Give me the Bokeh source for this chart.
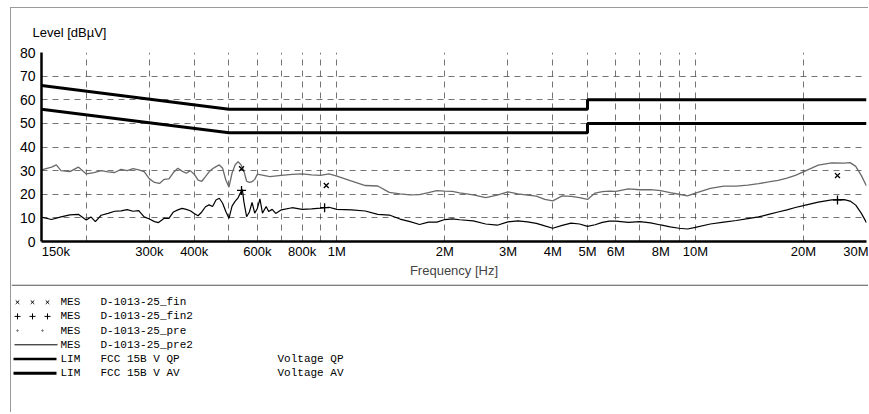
from bokeh.plotting import figure
from bokeh.models import FixedTicker, Range1d
from bokeh.layouts import column
from bokeh.core.properties import value
from bokeh.embed import file_html
from bokeh.resources import INLINE

# ---------------- data ----------------
# prescan QP trace (D-1013-25_pre)
pre_khz = [150, 160, 165, 170, 180, 190, 200, 210, 220, 230, 240, 250, 260, 270, 280, 290,
           300, 310, 320, 330, 340, 350, 360, 370, 380, 390, 400, 410, 420, 430, 440, 450,
           460, 470, 480, 490, 500, 510, 520, 530, 540, 550, 560, 570, 580, 590, 600, 650,
           700, 750, 800, 850, 900, 950, 1000, 1100, 1200, 1300, 1400, 1500, 1600, 1700,
           1800, 1900, 2000, 2100, 2200, 2400, 2600, 2800, 3000, 3200, 3400, 3600, 3800,
           4000, 4250, 4500, 4750, 5000, 5250, 5500, 5750, 6000, 6500, 7000, 7500, 8000,
           8500, 9000, 9500, 10000, 11000, 12000, 13000, 14000, 15000, 16000, 17000, 18000,
           19000, 20000, 22000, 24000, 26000, 27000, 28000, 29000, 30000]
pre_db = [30.3, 31.5, 32.4, 30.0, 29.6, 31.5, 28.6, 29.2, 30.0, 29.5, 29.2, 30.5, 30.0, 30.8, 30.3, 29.6,
          26.5, 25.0, 24.6, 26.3, 26.5, 29.2, 31.0, 29.8, 28.9, 30.0, 28.5, 26.0, 25.5, 27.5, 29.5, 30.8,
          31.7, 32.4, 31.0, 26.0, 23.0, 29.0, 32.4, 33.8, 32.5, 30.0, 25.5, 25.0, 25.3, 26.3, 28.5, 27.5,
          28.0, 28.4, 28.6, 28.2, 28.0, 28.6, 27.7, 25.6, 23.7, 23.5, 20.8, 20.2, 19.7, 19.8,
          20.7, 21.5, 21.3, 21.2, 20.6, 19.7, 18.6, 19.6, 21.0, 20.2, 19.6, 19.2, 17.8,
          17.2, 19.3, 19.1, 18.6, 17.8, 20.5, 21.1, 21.3, 21.2, 22.3, 21.9, 22.0, 21.5,
          20.7, 20.0, 19.3, 20.5, 22.5, 23.4, 23.4, 23.9, 24.5, 25.2, 25.9, 26.8,
          28.0, 29.5, 32.3, 33.3, 33.2, 33.4, 31.8, 28.0, 23.5]

# prescan AV trace (D-1013-25_pre2)
pre2_khz = [150, 160, 170, 180, 190, 200, 206, 212, 220, 230, 240, 250, 260, 270, 280, 290,
            300, 310, 318, 330, 340, 350, 360, 370, 380, 390, 400, 410, 420, 430, 440, 450,
            460, 470, 480, 490, 500, 510, 520, 530, 540, 545, 550, 560, 570, 580, 590, 600,
            610, 620, 635, 645, 660, 675, 700, 750, 800, 850, 900, 950, 1000, 1100, 1200,
            1300, 1400, 1500, 1600, 1700, 1800, 1900, 2000, 2100, 2200, 2400, 2600, 2800,
            3000, 3200, 3400, 3600, 3800, 4000, 4250, 4500, 4750, 5000, 5250, 5500, 5750,
            6000, 6500, 7000, 7500, 8000, 8500, 9000, 9500, 10000, 11000, 12000, 13000,
            14000, 15000, 16000, 17000, 18000, 19000, 20000, 22000, 24000, 26000, 27000,
            28000, 29000, 30000]
pre2_db = [10.3, 9.3, 10.4, 11.3, 11.5, 9.1, 10.4, 8.4, 11.1, 11.9, 12.8, 13.0, 13.5, 12.8, 13.1, 10.4,
           9.5, 8.4, 8.0, 9.8, 9.8, 12.5, 13.4, 14.0, 13.6, 13.0, 11.9, 10.9, 12.5, 14.7, 15.5, 14.8,
           17.6, 18.3, 16.2, 12.7, 9.8, 15.0, 17.0, 18.5, 21.0, 22.0, 17.0, 10.5, 12.5, 16.5, 12.0, 14.0,
           18.0, 12.0, 14.8, 12.7, 13.6, 11.9, 13.4, 14.3, 13.6, 13.8, 14.1, 14.5, 13.6, 13.4, 12.9,
           11.5, 11.2, 9.5, 8.4, 7.2, 8.2, 8.2, 9.3, 9.6, 9.2, 8.7, 7.4, 6.9,
           8.3, 8.7, 8.3, 7.7, 6.6, 5.6, 6.8, 7.8, 7.4, 6.4, 7.1, 8.1, 8.6,
           8.6, 8.1, 8.4, 7.9, 7.0, 6.2, 5.6, 5.3, 6.0, 7.4, 8.2, 8.9,
           9.7, 10.4, 11.5, 12.5, 13.4, 14.4, 15.2, 16.7, 17.6, 17.7, 17.1,
           15.4, 12.0, 8.0]

# final measurements
fin_khz = [542, 934, 24900]
fin_db = [30.8, 23.7, 27.9]
fin2_khz = [542, 924, 24900]
fin2_db = [21.6, 14.3, 17.6]

# FCC 15B limits
lim_mhz = [0.15, 0.5, 5, 5, 30]
qp_db = [66, 56, 56, 60, 60]
av_db = [56, 46, 46, 50, 50]

# axis ticks
label_ticks = [150e3, 300e3, 400e3, 600e3, 800e3, 1e6, 2e6, 3e6, 4e6, 5e6, 6e6, 8e6, 10e6, 20e6, 30e6]
label_texts = ["150k", "300k", "400k", "600k", "800k", "1M", "2M", "3M", "4M", "5M", "6M", "8M",
               "10M", "20M", "30M"]
grid_ticks = [200e3, 300e3, 400e3, 500e3, 600e3, 700e3, 800e3, 900e3, 1e6, 2e6, 3e6, 4e6,
              5e6, 6e6, 7e6, 8e6, 9e6, 10e6, 20e6, 30e6]
y_ticks = [0, 10, 20, 30, 40, 50, 60, 70, 80]

# legend
leg_kind = ["MES", "MES", "MES", "MES", "LIM", "LIM"]
leg_name = ["D-1013-25_fin", "D-1013-25_fin2", "D-1013-25_pre", "D-1013-25_pre2",
            "FCC 15B V QP", "FCC 15B V AV"]
leg_extra = ["", "", "", "", "Voltage QP", "Voltage AV"]

FONT = "Liberation Sans"
MONO = "Liberation Mono"
NBSP = "\u00a0"

# ---------------- main plot ----------------
W = 857
p = figure(width=W, height=276, x_axis_type="log",
           x_range=Range1d(150e3, 30e6), y_range=Range1d(0, 80),
           output_backend="svg", toolbar_location=None,
           min_border_left=30, min_border_right=2, min_border_top=44, min_border_bottom=43)
p.outline_line_color = None
p.background_fill_color = "white"
p.frame_align = False

p.title.text = "Level [dBµV]"
p.title.align = "left"
p.title.offset = -9
p.title.standoff = 26
p.title.text_font = FONT
p.title.text_font_size = "13px"
p.title.text_font_style = "normal"
p.title.text_color = "black"

overrides = {int(t): s for t, s in zip(label_ticks, label_texts)}
overrides[int(label_ticks[0])] = NBSP * 8 + label_texts[0]
p.xaxis.ticker = FixedTicker(ticks=label_ticks)
p.xaxis.major_label_overrides = overrides
p.yaxis.ticker = FixedTicker(ticks=y_ticks)
for ax in (p.xaxis, p.yaxis):
    ax.axis_line_width = 2.5
    ax.axis_line_color = "black"
    ax.major_tick_line_color = None
    ax.minor_tick_line_color = None
    ax.major_label_text_font = FONT
    ax.major_label_text_color = "black"
p.xaxis.major_label_text_font_size = "13px"
p.yaxis.major_label_text_font_size = "14px"
p.xaxis.major_label_standoff = -4
p.yaxis.major_label_standoff = 0
p.xaxis.axis_label = "Frequency [Hz]"
p.xaxis.axis_label_text_font = FONT
p.xaxis.axis_label_text_font_size = "13px"
p.xaxis.axis_label_text_font_style = "normal"
p.xaxis.axis_label_standoff = 1

p.xgrid.ticker = FixedTicker(ticks=grid_ticks)
p.ygrid.ticker = FixedTicker(ticks=y_ticks[1:])
for g in (p.xgrid, p.ygrid):
    g.grid_line_color = "#3a3a3a"
    g.grid_line_dash = "6 5"
    g.grid_line_alpha = 0.7
    g.grid_line_width = 1

pre_f = [k * 1e3 for k in pre_khz]
pre2_f = [k * 1e3 for k in pre2_khz]
lim_f = [m * 1e6 for m in lim_mhz]

p.line(pre_f, pre_db, line_color="#6a6a6a", line_width=1.3)
p.line(pre2_f, pre2_db, line_color="black", line_width=1.2)
p.line(lim_f, qp_db, line_color="black", line_width=3)
p.line(lim_f, av_db, line_color="black", line_width=3)
p.scatter([k * 1e3 for k in fin_khz], fin_db, marker="x", size=7, line_color="black", line_width=1.3)
p.scatter([k * 1e3 for k in fin2_khz], fin2_db, marker="cross", size=9, line_color="black", line_width=1.3)

# ---------------- legend panel ----------------
H2 = 128
q = figure(width=W, height=H2, x_range=Range1d(0, W), y_range=Range1d(H2, 0),
           output_backend="svg", toolbar_location=None,
           min_border_left=0, min_border_right=0, min_border_top=0, min_border_bottom=0,
           x_axis_location=None, y_axis_location=None)
q.frame_align = False
q.outline_line_color = None
q.grid.visible = False
q.line([0, W], [0.6, 0.6], line_color="#555555", line_width=1.2)

row_y = [17.7 + 14.2 * i for i in range(len(leg_kind))]
q.scatter([6, 21, 36], [row_y[0]] * 3, marker="x", size=5, line_color="black", line_width=1)
q.scatter([6, 21, 36], [row_y[1]] * 3, marker="cross", size=6, line_color="black", line_width=1)
q.scatter([6, 31], [row_y[2]] * 2, marker="circle", size=1.5, color="#777777")
q.line([3, 46], [row_y[3]] * 2, line_color="black", line_width=1)
q.line([2, 45], [row_y[4]] * 2, line_color="black", line_width=2.5)
q.line([2, 45], [row_y[5]] * 2, line_color="black", line_width=3)
q.text(x=[49] * 6, y=row_y, text=leg_kind, text_font=value(MONO), text_font_size="11px",
       text_baseline="middle", text_color="black")
q.text(x=[89] * 6, y=row_y, text=leg_name, text_font=value(MONO), text_font_size="11px",
       text_baseline="middle", text_color="black")
q.text(x=[266] * 6, y=row_y, text=leg_extra, text_font=value(MONO), text_font_size="11px",
       text_baseline="middle", text_color="black")

layout = column(p, q, spacing=0,
                styles={"margin-left": "10px", "margin-top": "7px",
                        "border-left": "1px solid #9a9a9a", "border-top": "1px solid #9a9a9a"})

open("out.html", "w").write(file_html(layout, INLINE))
